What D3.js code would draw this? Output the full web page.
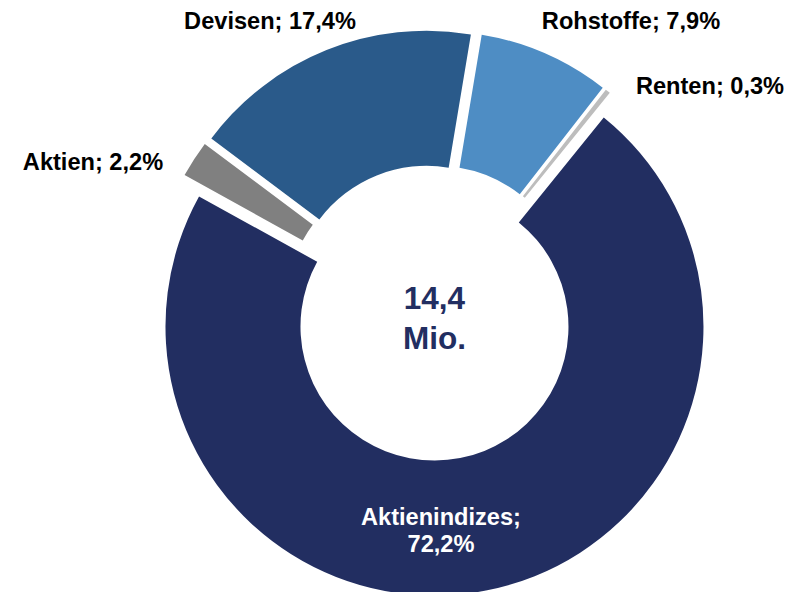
<!DOCTYPE html>
<html>
<head>
<meta charset="utf-8">
<script src="https://cdn.jsdelivr.net/npm/d3@7"></script>
<style>
  body { margin: 0; background: #ffffff; }
  text { font-family: "Liberation Sans", Arial, sans-serif; font-weight: bold; }
</style>
</head>
<body>
<script>

// the data
var categories = ["Aktienindizes", "Aktien", "Devisen", "Rohstoffe", "Renten"];
var shares = [72.2, 2.2, 17.4, 7.9, 0.3];
var totalLabel = ["14,4", "Mio."];

// colours per slice
var colors = ["#222E61", "#808080", "#2A5A8A", "#4E8DC4", "#BDBDBD"];

// label placement (center x, baseline y) and colour, labels were set by hand in the original
var labelPlaces = [[441, 525], [93, 170], [270, 29], [631, 29], [710, 93.5]];
var labelColors = ["#ffffff", "#000000", "#000000", "#000000", "#000000"];

window.onload = function() {
  draw_donut();
};

function fmt(v) {
  return v.toFixed(1).replace(".", ",") + "%";
}

function draw_donut() {
  var width = 791,
    height = 592,
    cx = 431.8,
    cy = 312.8,
    outerR = 269,
    innerR = 134,
    explode = 14,
    start = 39 * Math.PI / 180;

  var svg = d3.select("body")
              .append("svg")
              .attr("width", width)
              .attr("height", height);

  var data = categories.map(function(c, i) {
    return {name: c, value: shares[i], color: colors[i], i: i};
  });

  var pie = d3.pie()
              .sort(null)
              .value(function(d) { return d.value; })
              .startAngle(start)
              .endAngle(start + 2 * Math.PI);

  var arc = d3.arc()
              .innerRadius(innerR)
              .outerRadius(outerR);

  var g = svg.append("g")
             .attr("transform", "translate(" + cx + "," + cy + ")");

  // slices, each pushed out along its middle angle
  g.selectAll("path")
   .data(pie(data))
   .enter()
   .append("path")
   .attr("d", arc)
   .attr("transform", function(d) {
     var mid = (d.startAngle + d.endAngle) / 2;
     return "translate(" + (explode * Math.sin(mid)) + "," + (-explode * Math.cos(mid)) + ")";
   })
   .attr("fill", function(d) { return d.data.color; });

  // total in the hole (hole center = center of the big slice)
  var big = pie(data)[0];
  var bigMid = (big.startAngle + big.endAngle) / 2;
  var hx = cx + explode * Math.sin(bigMid),
    hy = cy - explode * Math.cos(bigMid);

  svg.append("text")
     .attr("x", hx)
     .attr("y", hy - 17.5)
     .attr("text-anchor", "middle")
     .style("font-size", "31.5px")
     .style("fill", "#222E61")
     .text(totalLabel[0]);

  svg.append("text")
     .attr("x", hx)
     .attr("y", hy + 22)
     .attr("text-anchor", "middle")
     .style("font-size", "31.5px")
     .style("fill", "#222E61")
     .text(totalLabel[1]);

  // slice labels
  data.forEach(function(d, i) {
    var t = svg.append("text")
               .attr("text-anchor", "middle")
               .style("font-size", "23.6px")
               .style("fill", labelColors[i]);
    if (i == 0) {
      t.append("tspan").attr("x", labelPlaces[i][0]).attr("y", labelPlaces[i][1]).text(d.name + ";");
      t.append("tspan").attr("x", labelPlaces[i][0]).attr("y", labelPlaces[i][1] + 27).text(fmt(d.value));
    } else {
      t.attr("x", labelPlaces[i][0])
       .attr("y", labelPlaces[i][1])
       .text(d.name + "; " + fmt(d.value));
    }
  });
}
</script>
</body>
</html>
